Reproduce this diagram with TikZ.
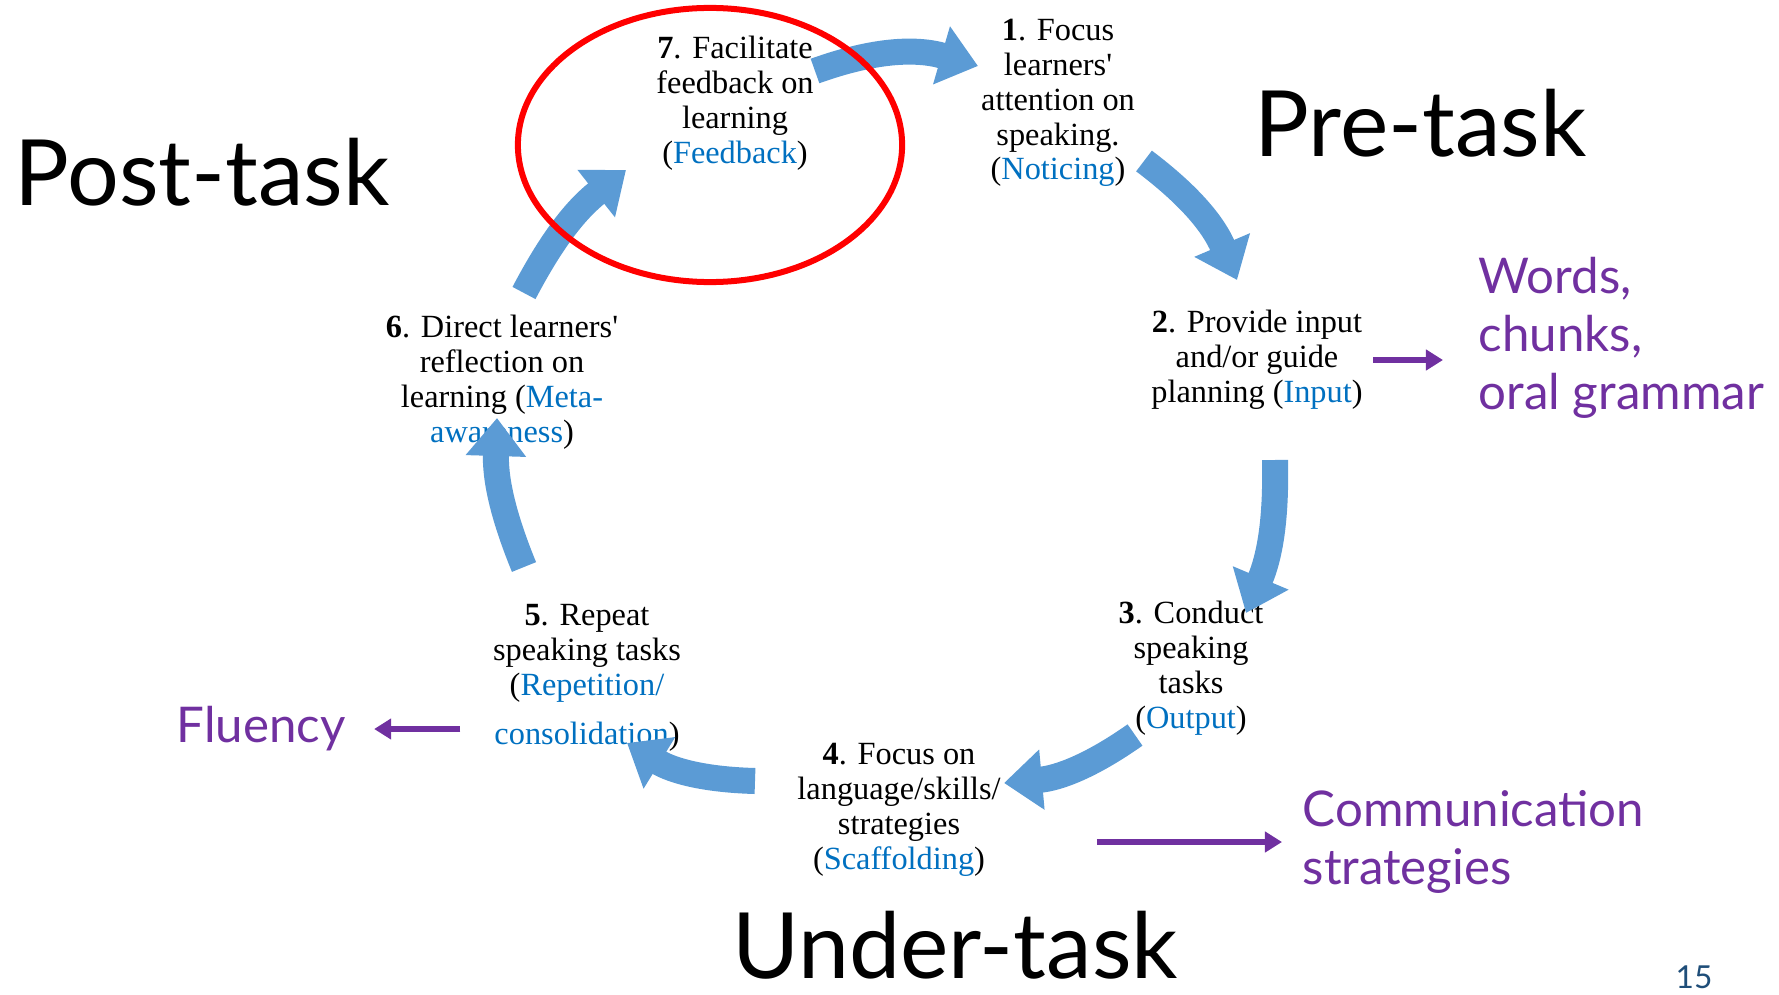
\documentclass[tikz,border=0pt]{standalone}
\usepackage{fontspec}
\setmainfont{Liberation Serif}[Ligatures=TeXOff]
\newfontfamily\labfont{Lato}
\usetikzlibrary{arrows.meta}
\definecolor{cyclearrow}{HTML}{5B9BD5}
\definecolor{keyblue}{HTML}{0070C0}
\definecolor{notepurple}{HTML}{7030A0}
\definecolor{pagenum}{HTML}{1F4E79}
\newcommand{\stagekey}[1]{\textcolor{keyblue}{#1}}
\begin{document}
\begin{tikzpicture}[x=0.01cm,y=0.01cm,
    stage/.style={align=center,inner sep=0pt,font=\fontsize{9.2}{9.9}\selectfont},
    phase/.style={inner sep=0pt,font=\labfont\fontsize{26}{30}\selectfont},
    note/.style={inner sep=0pt,align=left,text=notepurple,font=\labfont\fontsize{14}{16.5}\selectfont},
    cyc/.style={cyclearrow,line width=0.26cm,-{Triangle[width=0.58cm,length=0.38cm]}},
    pointer/.style={notepurple,line width=1.6pt,-{Triangle[width=0.2cm,length=0.17cm]}}]
              \useasboundingbox (0,0) rectangle (1779,-994);
              \node[stage] (n7) at (735,-103) {\textbf{7}. Facilitate\\feedback on\\learning\\(\stagekey{Feedback})};
              \node[stage] (n1) at (1058,-103) {\textbf{1}. Focus\\learners'\\attention on\\speaking.\\(\stagekey{Noticing})};
              \node[stage] (n2) at (1257,-360) {\textbf{2}. Provide input\\and/or guide\\planning (\stagekey{Input})};
              \node[stage] (n3) at (1191,-668) {\textbf{3}. Conduct\\speaking\\tasks\\(\stagekey{Output})};
              \node[stage] (n4) at (899,-810) {\textbf{4}. Focus on\\language/skills/\\strategies\\(\stagekey{Scaffolding})};
              \node[stage] (n5) at (587,-678) {\textbf{5}. Repeat\\speaking tasks\\(\stagekey{Repetition/}\\[4pt]\stagekey{consolidation})};
              \node[stage] (n6) at (502,-382) {\textbf{6}. Direct learners'\\reflection on\\learning (\stagekey{Meta-}\\\stagekey{awareness})};
              \node[phase,anchor=west] (post) at (14,-172) {Post-task};
              \node[phase,anchor=west] (pre) at (1254,-123) {Pre-task};
              \node[phase,anchor=base,text depth=0pt] (under) at (955,-978) {Under-task};
              \node[note,anchor=west] (words) at (1478,-338) {Words,\\chunks,\\oral grammar};
              \node[note] (fluency) at (261,-729) {Fluency};
              \node[note,anchor=west] (comm) at (1302,-842) {Communication\\strategies};
              \node[text=pagenum,font=\labfont\fontsize{9}{10}\selectfont] (page) at (1694,-977) {15};
              \coordinate (t71) at (815,-71);
              \coordinate (h71) at (978,-66);
              \coordinate (t12) at (1144,-161);
              \coordinate (h12) at (1237,-280);
              \coordinate (t23) at (1275,-460);
              \coordinate (h23) at (1246,-613);
              \coordinate (t34) at (1135,-735);
              \coordinate (h34) at (1004,-783);
              \coordinate (t45) at (755,-781);
              \coordinate (h45) at (627,-743);
              \coordinate (t56) at (524,-567);
              \coordinate (h56) at (497,-418);
              \coordinate (t67) at (524,-293);
              \coordinate (h67) at (626,-170);
              \draw[cyc] (t71) to[bend left=18] (h71);
              \draw[cyc] (t12) to[bend left=15] (h12);
              \draw[cyc] (t23) to[bend left=12] (h23);
              \draw[cyc] (t34) to[bend left=15] (h34);
              \draw[cyc] (t45) to[bend left=15] (h45);
              \draw[cyc] (t56) to[bend left=12] (h56);
              \draw[cyc] (t67) to[bend left=12] (h67);
              \draw[pointer] ([xshift=0.1cm]n2.east) -- ([xshift=-0.35cm]n2.east -| words.west);
              \draw[pointer] ([xshift=-0.32cm]n5.west |- fluency.east) -- ([xshift=0.28cm]fluency.east);
              \draw[pointer] ([xshift=-2.05cm]comm.west) -- ([xshift=-0.2cm]comm.west);
              \draw[red,line width=0.06cm] (710,-145) ellipse (1.92cm and 1.37cm);
            \end{tikzpicture}
\end{document}
